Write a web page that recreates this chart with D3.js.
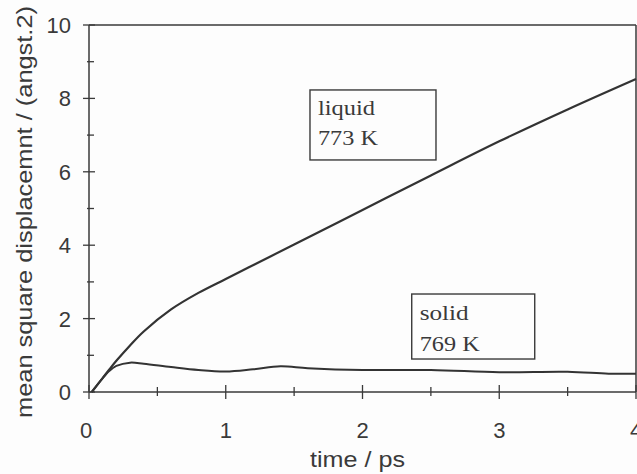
<!DOCTYPE html>
<html>
<head>
<meta charset="utf-8">
<script src="https://d3js.org/d3.v7.min.js"></script>
<style>
  body { margin: 0; background: #fdfdfd; }
  svg { display: block; }
</style>
</head>
<body>
<svg id="vis"></svg>
<script>

  // Data
  var liquidTime = [0.02, 0.1, 0.15, 0.2, 0.3, 0.4, 0.6, 0.8, 1, 1.25, 1.5, 2, 2.5, 3, 3.5, 4]
  var liquidMsd = [0, 0.38, 0.62, 0.85, 1.27, 1.65, 2.25, 2.7, 3.08, 3.55, 4.02, 4.96, 5.9, 6.83, 7.7, 8.53]

  var solidTime = [0.02, 0.1, 0.15, 0.2, 0.3, 0.4, 0.6, 0.8, 1, 1.2, 1.4, 1.6, 2, 2.5, 3, 3.5, 3.8, 4]
  var solidMsd = [0, 0.38, 0.58, 0.71, 0.8, 0.77, 0.68, 0.6, 0.56, 0.62, 0.7, 0.65, 0.6, 0.6, 0.54, 0.55, 0.5, 0.5]

  var xTicks = [0, 1, 2, 3, 4]
  var yTicks = [0, 2, 4, 6, 8, 10]
  var xMinor = [0.5, 1.5, 2.5, 3.5]
  var yMinor = [1, 3, 5, 7, 9]

  // label boxes: top-left corner in data units, two lines of text
  var labels = [
    { t: 1.616, v: 8.23, lines: ['liquid', '773 K'] },
    { t: 2.36, v: 2.67, lines: ['solid', '769 K'] }
  ]

  /***** SETUP *****/
  var width = 637, height = 474
  var svg = d3.select('#vis').attr('width', width).attr('height', height)

  var x = d3.scaleLinear().domain([0, 4]).range([89, 636])
  var y = d3.scaleLinear().domain([0, 10]).range([392, 25])

  var ink = '#3a3a3a'

  /***** FRAME + TICKS *****/
  // top and right edges
  svg.append('line')
    .attr('x1', x(0)).attr('x2', x(4)).attr('y1', y(10)).attr('y2', y(10))
    .style('stroke', ink).style('stroke-width', 1.5)
  svg.append('line')
    .attr('x1', x(4)).attr('x2', x(4)).attr('y1', y(10)).attr('y2', y(0))
    .style('stroke', ink).style('stroke-width', 1.5)

  // left and bottom axes
  svg.append('line')
    .attr('x1', x(0)).attr('x2', x(0)).attr('y1', y(10)).attr('y2', y(0))
    .style('stroke', ink).style('stroke-width', 1.5)
  svg.append('line')
    .attr('x1', x(0)).attr('x2', x(4)).attr('y1', y(0)).attr('y2', y(0))
    .style('stroke', ink).style('stroke-width', 1.5)

  // y ticks (cross the axis)
  svg.selectAll('.ymaj').data(yTicks).enter().append('line')
    .attr('x1', x(0) - 6).attr('x2', x(0) + 6)
    .attr('y1', function(d) { return y(d) }).attr('y2', function(d) { return y(d) })
    .style('stroke', ink).style('stroke-width', 1.3)
  svg.selectAll('.ymin').data(yMinor).enter().append('line')
    .attr('x1', x(0) - 2).attr('x2', x(0) + 5)
    .attr('y1', function(d) { return y(d) }).attr('y2', function(d) { return y(d) })
    .style('stroke', ink).style('stroke-width', 1.3)

  // x ticks
  svg.selectAll('.xmaj').data(xTicks).enter().append('line')
    .attr('x1', function(d) { return x(d) }).attr('x2', function(d) { return x(d) })
    .attr('y1', y(0) - 7).attr('y2', y(0) + 7)
    .style('stroke', ink).style('stroke-width', 1.3)
  svg.selectAll('.xmin').data(xMinor).enter().append('line')
    .attr('x1', function(d) { return x(d) }).attr('x2', function(d) { return x(d) })
    .attr('y1', y(0) - 5).attr('y2', y(0) + 4)
    .style('stroke', ink).style('stroke-width', 1.3)

  // tick labels
  svg.selectAll('.ylab').data(yTicks).enter().append('text')
    .text(function(d) { return d })
    .attr('x', 71)
    .attr('y', function(d) { return y(d) + 8 })
    .attr('text-anchor', 'end')
    .style('font-family', 'Liberation Sans, Arial, sans-serif')
    .style('font-size', '22px')
    .style('fill', ink)

  svg.selectAll('.xlab').data(xTicks).enter().append('text')
    .text(function(d) { return d })
    .attr('x', function(d) { return x(d) - (d === 0 ? 3 : 0) })
    .attr('y', 438)
    .attr('text-anchor', 'middle')
    .style('font-family', 'Liberation Sans, Arial, sans-serif')
    .style('font-size', '22px')
    .style('fill', ink)

  // axis titles
  svg.append('text')
    .text('time / ps')
    .attr('x', 310).attr('y', 467)
    .attr('textLength', 95).attr('lengthAdjust', 'spacingAndGlyphs')
    .style('font-family', 'Liberation Sans, Arial, sans-serif')
    .style('font-size', '22px')
    .style('fill', ink)

  svg.append('text')
    .text('mean square displacemnt / (angst.2)')
    .attr('transform', 'translate(32,418) rotate(-90)')
    .attr('textLength', 412).attr('lengthAdjust', 'spacingAndGlyphs')
    .style('font-family', 'Liberation Sans, Arial, sans-serif')
    .style('font-size', '22px')
    .style('fill', ink)

  /***** CURVES *****/
  var line = d3.line()
    .x(function(d) { return x(d[0]) })
    .y(function(d) { return y(d[1]) })
    .curve(d3.curveCatmullRom)

  svg.append('path')
    .attr('d', line(d3.zip(liquidTime, liquidMsd)))
    .style('fill', 'none').style('stroke', '#333').style('stroke-width', 2.2)

  svg.append('path')
    .attr('d', line(d3.zip(solidTime, solidMsd)))
    .style('fill', 'none').style('stroke', '#333').style('stroke-width', 2)

  /***** LABEL BOXES *****/
  labels.forEach(function(l, i) {
    var bx = x(l.t), by = y(l.v)
    var bw = i === 0 ? 126 : 123
    var bh = i === 0 ? 70 : 65
    svg.append('rect')
      .attr('x', bx).attr('y', by).attr('width', bw).attr('height', bh)
      .style('fill', 'none').style('stroke', ink).style('stroke-width', 1.4)
    l.lines.forEach(function(s, j) {
      svg.append('text')
        .text(s)
        .attr('x', bx + 8)
        .attr('y', by + (i === 0 ? 25 : 26) + j * (i === 0 ? 30 : 31))
        .attr('textLength', s === 'solid' ? 49 : (s === 'liquid' ? 57 : 60))
        .attr('lengthAdjust', 'spacingAndGlyphs')
        .style('font-family', 'Liberation Serif, Times New Roman, serif')
        .style('font-size', '20px')
        .style('fill', ink)
    })
  })

</script>
</body>
</html>
